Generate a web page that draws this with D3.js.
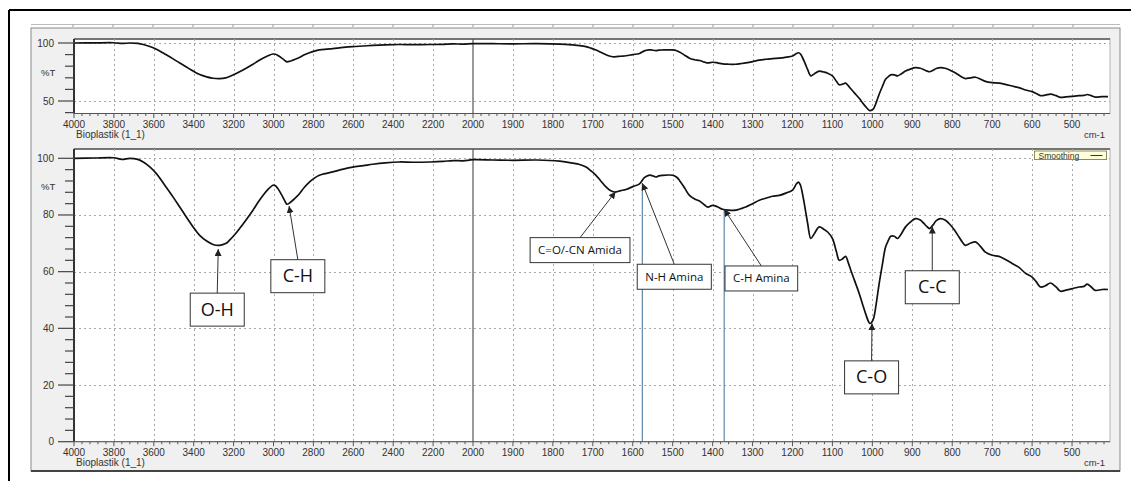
<!DOCTYPE html>
<html>
<head>
<meta charset="utf-8">
<script src="https://cdn.jsdelivr.net/npm/d3@7"></script>
<style>
	body { margin: 0; background: #fff; }
	svg text { font-family: "Liberation Sans", Arial, sans-serif; }
	.ann text { font-family: "Open Sans", "Noto Sans", sans-serif; }
</style>
</head>
<body>
<svg id="chart" width="1131" height="481"></svg>
<script>
"use strict";

// FTIR spectrum (same trace in both panels)
const wavenumbers = [
	4000, 3900, 3800, 3760, 3720, 3680, 3653, 3620, 3587, 3545, 3503, 3470, 3437, 3403, 3370, 3335,
	3303, 3270, 3240, 3220, 3195, 3170, 3135, 3103, 3078, 3053, 3025, 3003, 2990, 2978, 2965, 2953,
	2940, 2933, 2918, 2903, 2885, 2870, 2845, 2820, 2795, 2770, 2735, 2703, 2650, 2603, 2550, 2503,
	2440, 2370, 2300, 2215, 2150, 2100, 2050, 2000, 1950, 1899, 1840, 1783, 1750, 1733, 1717, 1705,
	1692, 1680, 1667, 1656, 1646, 1630, 1617, 1600, 1583, 1571, 1560, 1554, 1542, 1535, 1525, 1510,
	1500, 1490, 1483, 1470, 1458, 1445, 1433, 1420, 1412, 1400, 1388, 1375, 1360, 1342, 1330, 1317,
	1300, 1283, 1265, 1250, 1233, 1215, 1200, 1190, 1185, 1180, 1175, 1168, 1162, 1154, 1145, 1133,
	1122, 1112, 1100, 1090, 1083, 1075, 1067, 1060, 1054, 1045, 1033, 1025, 1017, 1010, 1006, 1000,
	996, 990, 983, 975, 967, 960, 954, 945, 937, 927, 917, 905, 892, 880, 871, 864,
	857, 848, 840, 829, 818, 808, 795, 783, 775, 767, 755, 742, 730, 717, 700, 683,
	667, 650, 633, 617, 600, 590, 579, 567, 554, 540, 529, 515, 500, 483, 470, 462,
	452, 442, 425, 410
];
const transmittance = [
	100, 100.1, 100.2, 99.6, 100, 99.6, 98.7, 97, 94.6, 90.5, 86.3, 82.8, 79.3, 75.8, 72.8, 70.8,
	69.6, 69.3, 69.9, 71.1, 73, 75.2, 78.5, 81.7, 84.4, 86.9, 89.2, 90.5, 90.3, 89.3, 87.8, 86.3,
	84.5, 83.8, 84.3, 85.2, 86.4, 87.5, 89.8, 91.6, 93, 94, 94.7, 95.2, 96.2, 96.9, 97.4, 97.9,
	98.4, 98.7, 98.6, 98.7, 98.9, 99.2, 99.1, 99.5, 99.4, 99.3, 99.4, 99, 98.3, 97.8, 96.9, 95.6,
	94, 92, 89.9, 88.6, 88.1, 88.6, 89, 90, 91, 93.2, 94, 94, 93.4, 93.8, 94, 94.1,
	94, 93.3, 92.2, 89.5, 86.9, 85.6, 84.9, 83.5, 82.8, 83.4, 82.9, 82, 81.7, 81.7, 82.2, 82.8,
	84, 85.2, 86, 86.6, 86.9, 87.8, 88.8, 91, 91.6, 90.5, 87.5, 82, 77, 71.7, 73.5, 75.8,
	75, 74, 71.7, 67, 64, 64.5, 65.4, 63, 60.5, 57, 52.3, 48.7, 45.2, 42.5, 41.7, 42.5,
	44, 49, 55.8, 62.5, 68.7, 71, 72.5, 72.5, 71.7, 73.5, 75.8, 77.5, 78.7, 78.2, 77, 76,
	75.2, 76.5, 78, 78.7, 78.2, 77, 74.8, 72.2, 70.5, 69.3, 70, 70.5, 69, 66.9, 65.8, 65.4,
	64.3, 62.9, 61.5, 59.5, 58.1, 56.5, 54.6, 55, 56, 54.6, 53.1, 53.5, 54, 54.6, 54.8, 55.6,
	54.6, 53.4, 53.7, 53.7
];

const xTickLabels = [4000, 3800, 3600, 3400, 3200, 3000, 2800, 2600, 2400, 2200, 2000,
	1900, 1800, 1700, 1600, 1500, 1400, 1300, 1200, 1100, 1000, 900, 800, 700, 600, 500];
const topYTicks = [50, 100];
const bottomYTicks = [0, 20, 40, 60, 80, 100];

// peak labels: arrow tip and box centre, both in (cm-1, %T)
const annLabels = ["O-H", "C-H", "C=O/-CN Amida", "N-H Amina", "C-H Amina", "C-O", "C-C"];
const annTipWn  = [3277, 2922, 1643, 1576, 1371, 1001, 850];
const annTipT   = [68, 83.2, 88.2, 91.2, 82.0, 41.8, 75.9];
const annBoxWn  = [3282, 2878, 1732, 1496, 1278, 1002, 850];
const annBoxT   = [46.6, 58.4, 67.6, 58.2, 57.6, 22.7, 54.5];
const annGuide  = [false, false, false, true, true, false, false];

const spectrum = wavenumbers.map((w, i) => ({wn: w, t: transmittance[i]}));

const svg = d3.select("#chart");
const defs = svg.append("defs");
defs.append("marker")
	.attr("id", "head")
	.attr("viewBox", "0 0 10 10")
	.attr("refX", 10).attr("refY", 5)
	.attr("markerWidth", 7).attr("markerHeight", 7)
	.attr("markerUnits", "userSpaceOnUse")
	.attr("orient", "auto")
	.append("path")
	.attr("d", "M0,0L10,5L0,10Z")
	.attr("fill", "#222");

// outer frame + grey window
svg.append("line").attr("x1", 9).attr("x2", 1131).attr("y1", 10).attr("y2", 10)
	.attr("stroke", "#000").attr("stroke-width", 2);
svg.append("line").attr("x1", 9).attr("x2", 9).attr("y1", 10).attr("y2", 481)
	.attr("stroke", "#000").attr("stroke-width", 2);
svg.append("rect").attr("x", 31).attr("y", 28).attr("width", 1089).attr("height", 443)
	.attr("fill", "#f0f0f0").attr("stroke", "#8a8a8a");
svg.append("line").attr("x1", 31).attr("x2", 1120).attr("y1", 471).attr("y2", 471)
	.attr("stroke", "#444").attr("stroke-width", 2);
// little ruler above the window
svg.append("line").attr("x1", 31).attr("x2", 1120).attr("y1", 24.5).attr("y2", 24.5)
	.attr("stroke", "#bbb");
svg.append("g").selectAll("line").data(d3.range(73, 1110, 40)).join("line")
	.attr("x1", d => d).attr("x2", d => d).attr("y1", 24.5).attr("y2", 27)
	.attr("stroke", "#999");

const x = d3.scaleLinear().domain([4000, 2000, 405]).range([74, 473, 1110]);
const left = x(4000), right = x(405);

const panels = [
	{top: 39, bottom: 113.5, y: d3.scaleLinear().domain([50, 100]).range([101, 43]),
	 ticks: topYTicks, minorFrom: 40, minor: 10, labelT: 75},
	{top: 149, bottom: 441.7, y: d3.scaleLinear().domain([0, 100]).range([441.7, 158.3]),
	 ticks: bottomYTicks, minorFrom: 0, minor: 4, labelT: 90}
];

panels.forEach((p, pi) => {
	const g = svg.append("g");
	const y = p.y;

	g.append("rect")
		.attr("x", left).attr("y", p.top)
		.attr("width", right - left).attr("height", p.bottom - p.top)
		.attr("fill", "#fff").attr("stroke", "#b5b5b5");
	g.append("line")
		.attr("x1", left).attr("x2", right).attr("y1", p.top).attr("y2", p.top)
		.attr("stroke", "#555").attr("stroke-width", 1.5);

	// dotted grid
	g.append("g").selectAll("line")
		.data(p.ticks.filter(t => y(t) < p.bottom - 1))
		.join("line")
		.attr("x1", left).attr("x2", right)
		.attr("y1", d => Math.round(y(d)) + 0.5).attr("y2", d => Math.round(y(d)) + 0.5)
		.attr("stroke", "#a8a8a8").attr("stroke-dasharray", "2,3");
	g.append("g").selectAll("line")
		.data(xTickLabels.filter(d => d != 4000 && d != 2000))
		.join("line")
		.attr("x1", d => Math.round(x(d)) + 0.5).attr("x2", d => Math.round(x(d)) + 0.5)
		.attr("y1", p.top).attr("y2", p.bottom)
		.attr("stroke", "#a8a8a8").attr("stroke-dasharray", "2,3");
	// scale break at 2000
	g.append("line")
		.attr("x1", x(2000)).attr("x2", x(2000)).attr("y1", p.top).attr("y2", p.bottom)
		.attr("stroke", "#555").attr("stroke-width", 1.2);

	const clipId = "clip" + pi;
	defs.append("clipPath").attr("id", clipId).append("rect")
		.attr("x", left).attr("y", p.top).attr("width", right - left).attr("height", p.bottom - p.top);

	const line = d3.line()
		.x(d => x(d.wn))
		.y(d => y(d.t))
		.curve(d3.curveCatmullRom.alpha(0.5));

	// guide lines (blue) under the trace
	if (pi == 1) {
		g.append("g").selectAll("line")
			.data(annLabels.map((l, i) => i).filter(i => annGuide[i]))
			.join("line")
			.attr("x1", i => x(annTipWn[i])).attr("x2", i => x(annTipWn[i]))
			.attr("y1", i => y(annTipT[i])).attr("y2", p.bottom)
			.attr("stroke", "#5f87a8").attr("stroke-width", 1.2);
	}

	g.append("path")
		.datum(spectrum)
		.attr("clip-path", `url(#${clipId})`)
		.attr("d", line)
		.attr("fill", "none")
		.attr("stroke", "#111")
		.attr("stroke-width", 1.7)
		.attr("stroke-linejoin", "round");

	// y axis
	g.append("line").attr("x1", left).attr("x2", left).attr("y1", p.top).attr("y2", p.bottom)
		.attr("stroke", "#333").attr("stroke-width", 2);
	const yMinor = d3.range(p.minorFrom, 100.1, p.minor);
	g.append("g").selectAll("line").data(yMinor).join("line")
		.attr("x1", d => p.ticks.includes(d) ? left - 16 : left - 9).attr("x2", left)
		.attr("y1", d => y(d)).attr("y2", d => y(d))
		.attr("stroke", "#444").attr("stroke-width", 1.2);
	g.append("g").selectAll("text").data(p.ticks).join("text")
		.attr("x", left - 20).attr("y", d => y(d) + 3.5)
		.attr("text-anchor", "end")
		.attr("font-size", 10).attr("fill", "#333")
		.text(d => d);
	g.append("text")
		.attr("x", 41).attr("y", y(p.labelT) + 3.5)
		.attr("font-size", 9.5).attr("fill", "#333")
		.text("%T");

	// x axis
	g.append("line").attr("x1", left).attr("x2", right).attr("y1", p.bottom).attr("y2", p.bottom)
		.attr("stroke", "#555");
	const xMinor = d3.range(4000, 2000, -40).concat(d3.range(2000, 405, -20));
	g.append("g").selectAll("line").data(xMinor).join("line")
		.attr("x1", d => x(d)).attr("x2", d => x(d))
		.attr("y1", p.bottom)
		.attr("y2", d => xTickLabels.includes(d) ? p.bottom + 4.5 : p.bottom + 2.5)
		.attr("stroke", "#555");
	g.append("g").selectAll("text").data(xTickLabels).join("text")
		.attr("x", d => x(d)).attr("y", p.bottom + 14)
		.attr("text-anchor", "middle")
		.attr("font-size", 10).attr("fill", "#333")
		.text(d => d);
	g.append("text")
		.attr("x", left + 2).attr("y", p.bottom + 24)
		.attr("font-size", 10).attr("fill", "#333")
		.text("Bioplastik (1_1)");
	g.append("text")
		.attr("x", 1105).attr("y", p.bottom + 24)
		.attr("text-anchor", "end")
		.attr("font-size", 9.5).attr("fill", "#333")
		.text("cm-1");

	if (pi == 1) {
		// legend
		const lg = g.append("g").attr("transform", `translate(1034.5,151)`);
		lg.append("rect").attr("width", 72).attr("height", 8.5)
			.attr("fill", "#ffffdc").attr("stroke", "#8c8c5a");
		lg.append("text").attr("x", 4).attr("y", 7.5)
			.attr("font-size", 8.5).attr("fill", "#333").text("Smoothing");
		lg.append("line").attr("x1", 56).attr("x2", 68).attr("y1", 4.5).attr("y2", 4.5)
			.attr("stroke", "#333");

		// peak annotations
		const big = new Set(["O-H", "C-H", "C-O", "C-C"]);
		const ann = g.append("g").attr("class", "ann")
			.selectAll("g").data(annLabels.map((l, i) => i)).join("g");
		ann.each(function (i) {
			const a = d3.select(this);
			const isBig = big.has(annLabels[i]);
			const cx = x(annBoxWn[i]), cy = y(annBoxT[i]);
			const txt = a.append("text")
				.attr("x", cx).attr("y", cy + (isBig ? 6 : 4))
				.attr("text-anchor", "middle")
				.attr("font-size", isBig ? 18 : 11.5)
				.attr("fill", "#111")
				.text(annLabels[i]);
			const w = isBig ? 54 : txt.node().getComputedTextLength() + 16;
			const h = isBig ? 33 : 25;
			a.insert("rect", "text")
				.attr("x", cx - w / 2).attr("y", cy - h / 2)
				.attr("width", w).attr("height", h)
				.attr("fill", "#fff").attr("stroke", "#333");
			a.append("line")
				.attr("x1", cx).attr("y1", cy - h / 2)
				.attr("x2", x(annTipWn[i])).attr("y2", y(annTipT[i]))
				.attr("stroke", "#333").attr("stroke-width", 1)
				.attr("marker-end", "url(#head)");
		});
	}
});
</script>
</body>
</html>
